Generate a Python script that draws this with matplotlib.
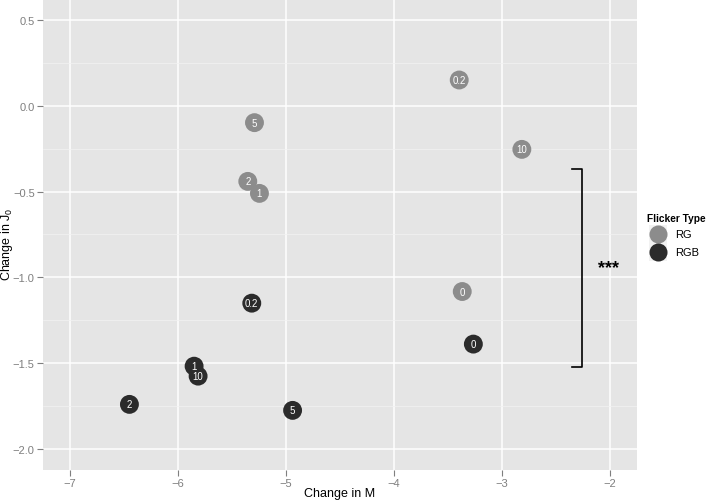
import matplotlib
matplotlib.use("Agg")
from matplotlib import pyplot as plt
from matplotlib.patches import Rectangle
from matplotlib.lines import Line2D

plt.rcParams['font.family'] = ['Liberation Sans', 'DejaVu Sans']
plt.rcParams['mathtext.fontset'] = 'custom'
plt.rcParams['mathtext.rm'] = 'Liberation Sans'
plt.rcParams['mathtext.it'] = 'Liberation Sans'

# dose labels and the change values for each flicker type
doses = ['0', '0.2', '1', '2', '5', '10']
rg_m = [-3.368, -3.396, -5.246, -5.354, -5.292, -2.816]
rg_j = [-1.083, 0.152, -0.510, -0.440, -0.097, -0.253]
rgb_m = [-3.265, -5.317, -5.851, -6.450, -4.939, -5.814]
rgb_j = [-1.390, -1.151, -1.519, -1.742, -1.777, -1.577]

# significance bracket (J range) and its label
bracket_x = -2.255
bracket_top, bracket_bottom = -0.369, -1.523
sig_text = '***'

rg_col = '#8c8c8c'
rgb_col = '#2b2b2b'

fig = plt.figure(figsize=(7.09, 5.02), dpi=100)
ax = fig.add_axes([0.0607, 0.0618, 0.8377, 0.9382])
ax.set_facecolor('#e5e5e5')
for s in ax.spines.values():
    s.set_visible(False)

ax.set_xlim(-7.25, -1.75)
ax.set_ylim(-2.125, 0.625)
ax.set_xticks([-7, -6, -5, -4, -3, -2])
ax.set_xticklabels(['\u22127', '\u22126', '\u22125', '\u22124', '\u22123', '\u22122'])
ax.set_yticks([0.5, 0.0, -0.5, -1.0, -1.5, -2.0])
ax.set_yticklabels(['0.5', '0.0', '\u22120.5', '\u22121.0', '\u22121.5', '\u22122.0'])
ax.set_xticks([-7.5 + 0.5 * i for i in range(1, 12, 2)], minor=True)
ax.set_yticks([0.25, -0.25, -0.75, -1.25, -1.75], minor=True)
ax.grid(True, which='major', color='white', linewidth=1.1)
ax.grid(True, which='minor', color='#f2f2f2', linewidth=0.5)
ax.set_axisbelow(True)
ax.tick_params(which='major', length=4, color='#7f7f7f', labelcolor='#7f7f7f', labelsize=8, pad=2)
ax.tick_params(which='minor', length=0)

ax.set_xlabel('Change in M', fontsize=9, va='center')
ax.xaxis.set_label_coords(0.5, -0.0488)
ax.set_ylabel('Change in J$_0$', fontsize=9, va='center', ha='center')
ax.yaxis.set_label_coords(-0.0606, 0.482)

ax.scatter(rg_m, rg_j, s=185, c=rg_col, edgecolors='none', zorder=3)
ax.scatter(rgb_m, rgb_j, s=185, c=rgb_col, edgecolors='none', zorder=3)
for d, x, y in zip(doses, rg_m, rg_j):
    ax.text(x, y, d, color='white', fontsize=7, ha='center', va='center', zorder=4)
for d, x, y in zip(doses, rgb_m, rgb_j):
    ax.text(x, y, d, color='white', fontsize=7, ha='center', va='center', zorder=4)

# bracket
tick_w = 0.1
ax.plot([bracket_x - tick_w, bracket_x, bracket_x, bracket_x - tick_w],
        [bracket_top, bracket_top, bracket_bottom, bracket_bottom],
        color='black', linewidth=1.2, zorder=3)
ax.text(-2.013, (bracket_top + bracket_bottom) / 2 + 0.005, sig_text,
        fontsize=13, fontweight='bold', ha='center', va='center')

# legend drawn by hand, ggplot style
fig.text(647 / 709, 1 - 219 / 502, 'Flicker Type', fontsize=7.3, fontweight='bold',
         ha='left', va='center')
for i, (lab, col) in enumerate([('RG', rg_col), ('RGB', rgb_col)]):
    y0 = 226 + i * 18
    fig.add_artist(Rectangle((649 / 709, 1 - (y0 + 17.5) / 502), 17.5 / 709, 17.5 / 502,
                             transform=fig.transFigure, facecolor='#f2f2f2',
                             edgecolor='none'))
    fig.add_artist(Line2D([658 / 709], [1 - (y0 + 8.75) / 502], marker='o',
                          markersize=13, color=col, markeredgewidth=0,
                          transform=fig.transFigure))
    fig.text(675 / 709, 1 - (y0 + 8.75) / 502, lab, fontsize=8, ha='left', va='center')

plt.savefig('out.png', dpi=100)
